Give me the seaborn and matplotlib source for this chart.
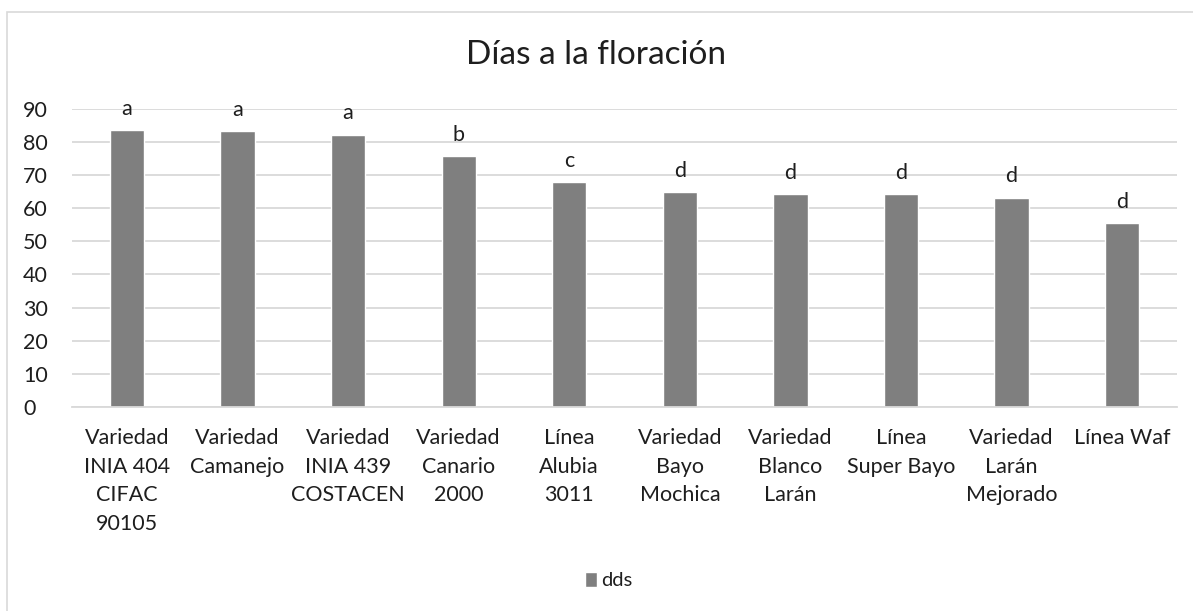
import matplotlib
matplotlib.use("Agg")
import matplotlib.pyplot as plt
import seaborn as sns
import pandas as pd
from matplotlib.patches import Rectangle

# Data
categories = [
    "Variedad\nINIA 404\nCIFAC\n90105",
    "Variedad\nCamanejo",
    "Variedad\nINIA 439\nCOSTACEN",
    "Variedad\nCanario\n2000",
    "Línea\nAlubia\n3011",
    "Variedad\nBayo\nMochica",
    "Variedad\nBlanco\nLarán",
    "Línea\nSuper Bayo",
    "Variedad\nLarán\nMejorado",
    "Línea Waf",
]
dds = [83.6, 83.2, 82.2, 75.8, 68.0, 64.8, 64.2, 64.2, 63.2, 55.6]
letters = ["a", "a", "a", "b", "c", "d", "d", "d", "d", "d"]
yticks = [0, 10, 20, 30, 40, 50, 60, 70, 80, 90]

df = pd.DataFrame({"variedad": categories, "dds": dds})

sns.set_style("white")
plt.rcParams["font.family"] = ["Lato", "DejaVu Sans"]

text_col = "#1e1e1e"
grid_col = "#d9d9d9"
bar_col = "#7f7f7f"

fig = plt.figure(figsize=(11.93, 6.11), dpi=100)
ax = fig.add_axes([0.060, 0.334, 0.927, 0.488])

sns.barplot(data=df, x="variedad", y="dds", color=bar_col, width=0.31,
            saturation=1, ax=ax, zorder=2, label="dds")

ax.set_ylim(0, 90)
ax.set_xlim(-0.5, len(categories) - 0.5)
ax.set_yticks(yticks)
ax.yaxis.grid(True, color=grid_col, linewidth=1.3, zorder=0)
ax.set_axisbelow(True)
for s in ["top", "right", "left"]:
    ax.spines[s].set_visible(False)
ax.spines["bottom"].set_color(grid_col)
ax.spines["bottom"].set_linewidth(1.3)
ax.tick_params(axis="both", length=0, labelsize=15.5, colors=text_col)
ax.tick_params(axis="x", pad=15)
ax.tick_params(axis="y", pad=35)
for t in ax.get_xticklabels():
    t.set_linespacing(1.55)
for t in ax.get_yticklabels():
    t.set_horizontalalignment("left")
ax.set_xlabel("")
ax.set_ylabel("")

# significance letters above bars
for i, (v, l) in enumerate(zip(dds, letters)):
    ax.annotate(l, (i, v), xytext=(0, 8), textcoords="offset points",
                ha="center", va="bottom", fontsize=15.5, color=text_col,
                clip_on=False)

fig.text(0.5, 0.91, "Días a la floración", ha="center", va="center",
         fontsize=24, color=text_col)

leg = ax.legend(loc="center", frameon=False, fontsize=14.5, handlelength=0.6,
                handleheight=0.8, handletextpad=0.2, labelcolor=text_col)
leg.set_bbox_to_anchor((0.51, 0.05), transform=fig.transFigure)

# outer chart border
fig.patches.append(Rectangle((0.006, -0.01), 1.5, 0.99, transform=fig.transFigure,
                             fill=False, edgecolor=grid_col, linewidth=1.2))

fig.savefig("out.png", dpi=100)
